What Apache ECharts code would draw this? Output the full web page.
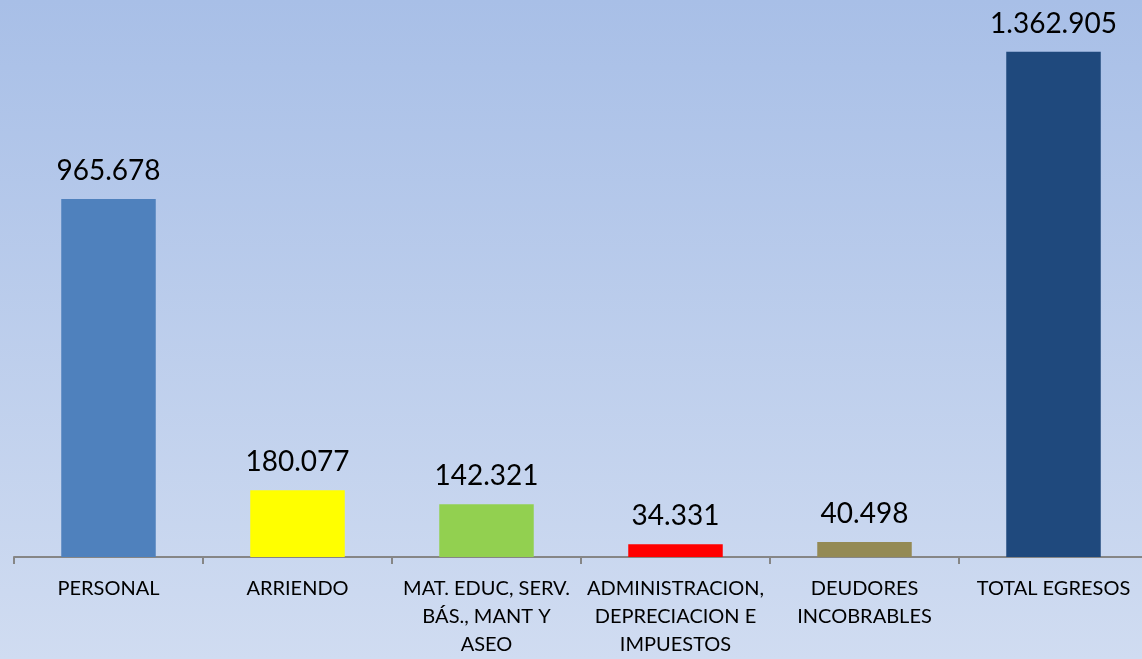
<!DOCTYPE html>
<html>
<head>
<meta charset="utf-8">
<script src="https://cdn.jsdelivr.net/npm/echarts@6/dist/echarts.min.js"></script>
<style>
html,body{margin:0;padding:0;width:1142px;height:659px;overflow:hidden;}
body{background:linear-gradient(to bottom,#a8bfe7 0%,#d0dcf1 100%);}
#c{width:1148px;height:659px;}
</style>
</head>
<body>
<div id="c"></div>
<script>
const categories = [
  'PERSONAL',
  'ARRIENDO',
  'MAT. EDUC, SERV.\nBÁS., MANT Y\nASEO',
  'ADMINISTRACION,\nDEPRECIACION E\nIMPUESTOS',
  'DEUDORES\nINCOBRABLES',
  'TOTAL EGRESOS'
];
const values = [965678, 180077, 142321, 34331, 40498, 1362905];
const barColors = ['#4f81bd', '#ffff00', '#92d050', '#ff0000', '#948a54', '#1f497d'];

function fmt(v) {
  return String(v).replace(/\B(?=(\d{3})+(?!\d))/g, '.');
}

const chart = echarts.init(document.getElementById('c'), null, {renderer: 'canvas'});
chart.setOption({
  backgroundColor: 'transparent',
  animation: false,
  grid: {left: 14, right: 0, top: 1, bottom: 102, containLabel: false},
  xAxis: {
    type: 'category',
    data: categories,
    axisLine: {lineStyle: {color: '#868686', width: 2}},
    axisTick: {show: true, length: 7, lineStyle: {color: '#868686', width: 2}},
    axisLabel: {
      interval: 0,
      color: '#000',
      fontFamily: 'Lato, "Open Sans", sans-serif',
      fontSize: 20,
      lineHeight: 28,
      margin: 18
    }
  },
  yAxis: {
    type: 'value',
    min: 0,
    max: 1500000,
    show: false,
    splitLine: {show: false}
  },
  series: [{
    type: 'bar',
    barWidth: '50%',
    data: values.map((v, i) => ({value: v, itemStyle: {color: barColors[i]}})),
    label: {
      show: true,
      position: 'top',
      distance: 14,
      color: '#000',
      fontFamily: 'Lato, "Open Sans", sans-serif',
      fontSize: 28,
      formatter: p => fmt(p.value)
    }
  }]
});
</script>
</body>
</html>
